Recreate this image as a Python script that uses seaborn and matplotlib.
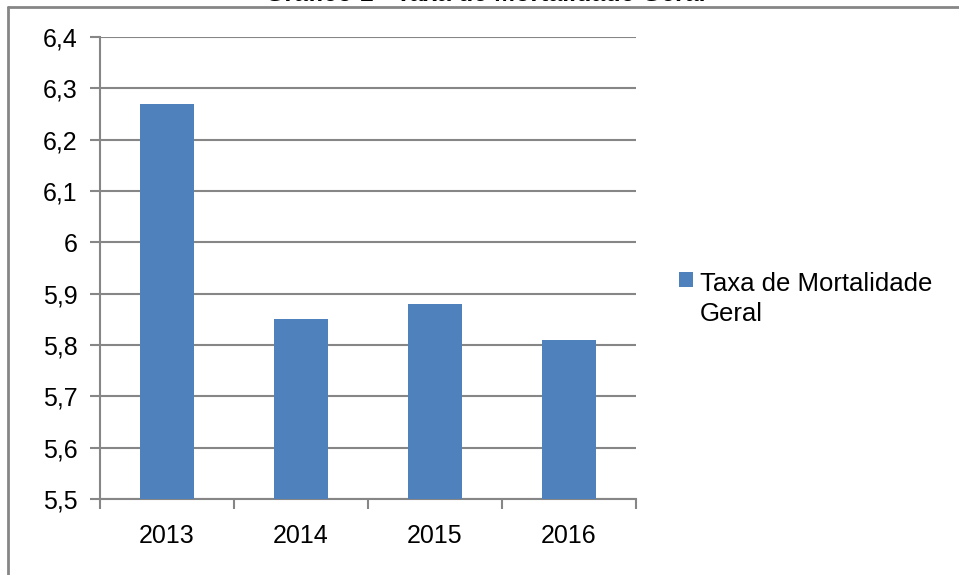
import matplotlib
matplotlib.use("Agg")
import matplotlib.pyplot as plt
from matplotlib.lines import Line2D
from matplotlib.patches import Patch
import seaborn as sns
import pandas as pd

anos = ["2013", "2014", "2015", "2016"]
taxa = [6.27, 5.85, 5.88, 5.81]
serie = "Taxa de Mortalidade\nGeral"
titulo = "Gráfico 1 - Taxa de Mortalidade Geral"
y_ticks = [5.5, 5.6, 5.7, 5.8, 5.9, 6.0, 6.1, 6.2, 6.3, 6.4]

sns.set_theme(style="white")
plt.rcParams["font.family"] = ["Liberation Sans", "DejaVu Sans"]
plt.rcParams["text.color"] = "black"

W, H = 959, 575
fig = plt.figure(figsize=(W / 100, H / 100), dpi=100)
ax = fig.add_axes([100 / W, (H - 499) / H, 536 / W, 462 / H])

df = pd.DataFrame({"ano": anos, "taxa": taxa})
bar_color = "#4F81BD"
grid_color = "#868686"
sns.barplot(data=df, x="ano", y="taxa", color=bar_color, width=0.4,
            saturation=1, linewidth=0, ax=ax, zorder=3)

ax.set_ylim(5.5, 6.4)
ax.set_xlim(-0.5, len(anos) - 0.5)
ax.set_yticks(y_ticks)
ax.set_yticklabels([f"{v:.1f}".replace(".", ",").replace(",0", "") for v in y_ticks])
ax.set_xlabel("")
ax.set_ylabel("")

for v in y_ticks:
    ax.axhline(v, color=grid_color, lw=1.5, zorder=1)

for s in ["top", "right"]:
    ax.spines[s].set_visible(False)
for s in ["left", "bottom"]:
    ax.spines[s].set_color(grid_color)
    ax.spines[s].set_linewidth(1.5)

# y ticks point outward to the left, x ticks sit on category boundaries
ax.tick_params(axis="y", which="major", left=True, length=7, width=1.5,
               color=grid_color, labelsize=18, pad=9, labelcolor="black")
ax.set_xticks(range(len(anos)))
ax.tick_params(axis="x", which="major", bottom=False, labelsize=18, pad=12,
               labelcolor="black")
ax.set_xticks([i - 0.5 for i in range(len(anos) + 1)], minor=True)
ax.tick_params(axis="x", which="minor", bottom=True, length=7, width=1.5,
               color=grid_color)

handle = Patch(facecolor=bar_color, edgecolor="none")
leg = fig.legend([handle], [serie], loc="upper left",
                 bbox_to_anchor=(679 / W, 1 - 272 / H), frameon=False,
                 fontsize=18.5, handlelength=0.55, handleheight=0.55,
                 handletextpad=0.25, borderaxespad=0, borderpad=0)
for txt in leg.get_texts():
    txt.set_linespacing(1.3)
    txt.set_color("black")
# keep the colour square level with the first line of the label
for col in leg._legend_handle_box.get_children():
    for row in col.get_children():
        row.align = "top"

# outer frame of the chart area
fig.add_artist(Line2D([8 / W, 1], [1 - 7 / H, 1 - 7 / H], color=grid_color, lw=2))
fig.add_artist(Line2D([8 / W, 8 / W], [0, 1 - 7 / H], color=grid_color, lw=2))

fig.text(485 / W, 1 - 1.2 / H, titulo, ha="center", va="baseline",
         fontsize=18, fontweight="bold")

fig.savefig("out.png", dpi=100, facecolor="white")
